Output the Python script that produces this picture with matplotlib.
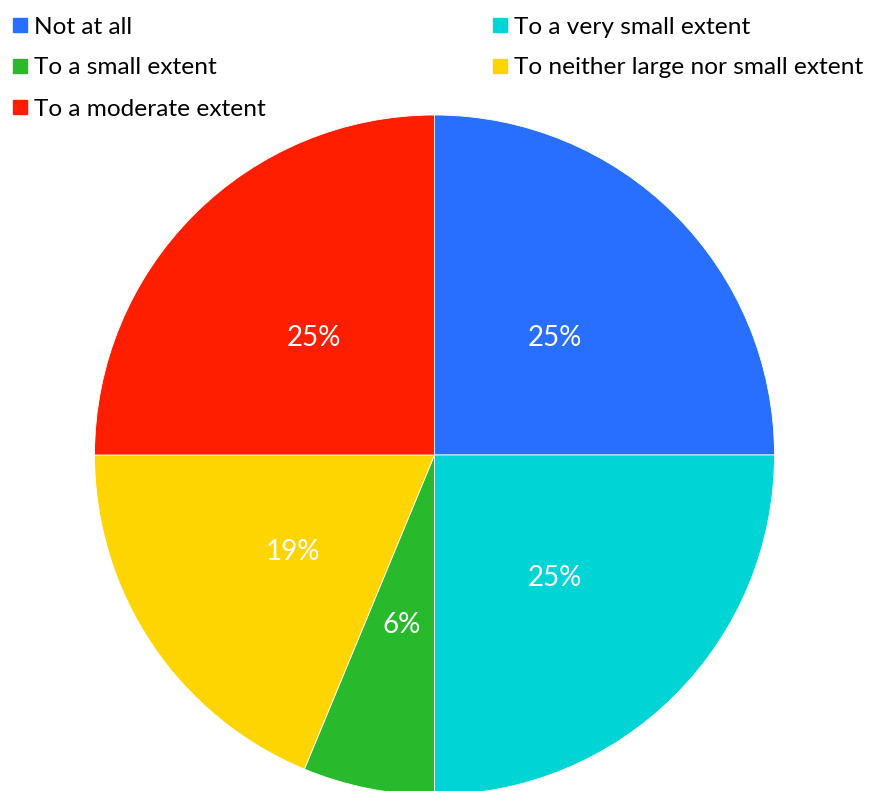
import matplotlib.pyplot as plt
from matplotlib.patches import Rectangle
from matplotlib.transforms import offset_copy

plt.rcParams['font.family'] = ['Lato', 'DejaVu Sans']

# survey answers, clockwise from 12 o'clock
labels = ['Not at all', 'To a very small extent', 'To a small extent',
          'To neither large nor small extent', 'To a moderate extent']
shares = [25, 25, 6.25, 18.75, 25]
colors = ['#286EFF', '#00D4D4', '#28B92D', '#FFD500', '#FF1E00']

W, H = 871, 791
fig = plt.figure(figsize=(W / 100, H / 100), dpi=100)

# pie centred at (434, 455) px with radius 340 px
cx, cy, r = 434.5, 455, 340
ax = fig.add_axes([(cx - r) / W, (H - cy - r) / H, 2 * r / W, 2 * r / H])
wedges, texts, autotexts = ax.pie(
    shares, colors=colors, startangle=90, counterclock=False, radius=1,
    autopct='%.0f%%', pctdistance=0.5,
    wedgeprops=dict(linewidth=0.6, edgecolor='white'),
    textprops=dict(color='white', fontsize=20))
for t in autotexts:
    t.set_transform(offset_copy(ax.transData, fig=fig, y=-3, units='dots'))
ax.set_xlim(-1, 1)
ax.set_ylim(-1, 1)
ax.set_aspect('equal')
ax.axis('off')

# legend in two columns: left column rows 0,2,4 ; right column rows 1,3
legend_order = [0, 2, 4, 1, 3]
positions = [(13, 25), (13, 66), (13, 107), (493, 25), (493, 66)]
for idx, (x, y) in zip(legend_order, positions):
    fig.add_artist(Rectangle((x / W, (H - y - 7) / H), 14 / W, 14 / H,
                             transform=fig.transFigure, color=colors[idx]))
    fig.text((x + 21) / W, (H - y - 2) / H, labels[idx], fontsize=17.6,
             va='center', ha='left', color='black')

fig.savefig('out.png', dpi=100)
